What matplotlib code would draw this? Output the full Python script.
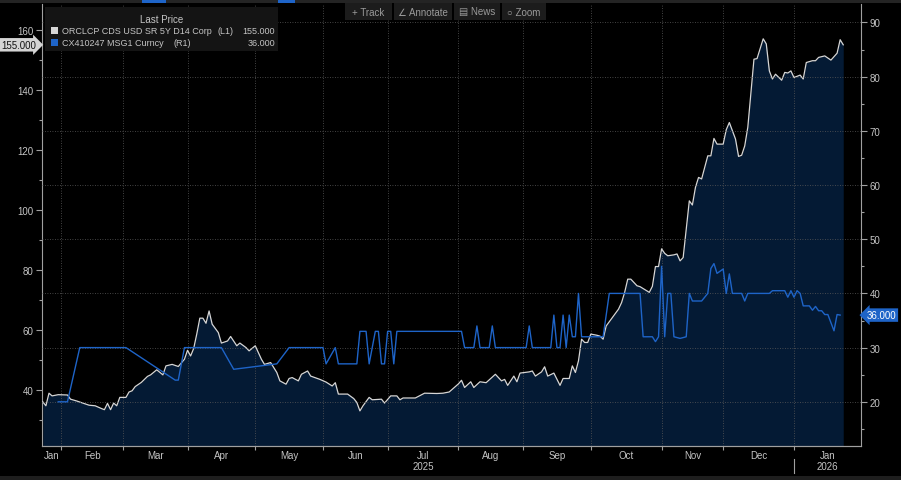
import numpy as np
import matplotlib
matplotlib.use("Agg")
import matplotlib.pyplot as plt
from matplotlib.patches import Rectangle
from matplotlib.lines import Line2D

# ORCLCP CDS USD SR 5Y D14 Corp (left axis)
cds_dates = [
    "2025-01-24", "2025-01-27", "2025-01-28", "2025-01-29", "2025-01-31",
    "2025-02-05", "2025-02-06", "2025-02-10", "2025-02-14", "2025-02-18",
    "2025-02-20", "2025-02-21", "2025-02-24", "2025-02-25", "2025-02-26",
    "2025-02-27", "2025-02-28", "2025-03-04", "2025-03-05", "2025-03-06",
    "2025-03-07", "2025-03-11", "2025-03-13", "2025-03-14", "2025-03-18",
    "2025-03-20", "2025-03-21", "2025-03-25", "2025-03-27", "2025-03-31",
    "2025-04-01", "2025-04-02", "2025-04-03", "2025-04-04", "2025-04-07",
    "2025-04-08", "2025-04-09", "2025-04-10", "2025-04-11", "2025-04-15",
    "2025-04-16", "2025-04-18", "2025-04-21", "2025-04-23", "2025-04-24",
    "2025-04-28", "2025-04-29", "2025-05-01", "2025-05-05", "2025-05-06",
    "2025-05-08", "2025-05-12", "2025-05-13", "2025-05-15", "2025-05-16",
    "2025-05-19", "2025-05-21", "2025-05-22", "2025-05-26", "2025-05-27",
    "2025-05-30", "2025-06-03", "2025-06-05", "2025-06-06", "2025-06-09",
    "2025-06-12", "2025-06-16", "2025-06-17", "2025-06-18", "2025-06-19",
    "2025-06-23", "2025-06-24", "2025-06-27", "2025-06-30", "2025-07-02",
    "2025-07-04", "2025-07-07", "2025-07-08", "2025-07-14", "2025-07-17",
    "2025-07-23", "2025-07-25", "2025-07-29", "2025-08-01", "2025-08-04",
    "2025-08-05", "2025-08-07", "2025-08-08", "2025-08-12", "2025-08-14",
    "2025-08-19", "2025-08-21", "2025-08-22", "2025-08-25", "2025-08-27",
    "2025-08-28", "2025-08-29", "2025-09-03", "2025-09-04", "2025-09-05",
    "2025-09-09", "2025-09-10", "2025-09-11", "2025-09-15", "2025-09-17",
    "2025-09-18", "2025-09-22", "2025-09-23", "2025-09-24", "2025-09-25",
    "2025-09-26", "2025-09-29", "2025-09-30", "2025-10-01", "2025-10-03",
    "2025-10-06", "2025-10-07", "2025-10-08", "2025-10-10", "2025-10-14",
    "2025-10-15", "2025-10-16", "2025-10-17", "2025-10-20", "2025-10-22",
    "2025-10-23", "2025-10-28", "2025-10-29", "2025-10-30", "2025-10-31",
    "2025-11-03", "2025-11-04", "2025-11-05", "2025-11-07", "2025-11-10",
    "2025-11-11", "2025-11-12", "2025-11-14", "2025-11-17", "2025-11-18",
    "2025-11-19", "2025-11-20", "2025-11-24", "2025-11-25", "2025-11-26",
    "2025-11-27", "2025-11-28", "2025-12-01", "2025-12-02", "2025-12-03",
    "2025-12-05", "2025-12-08", "2025-12-09", "2025-12-10", "2025-12-11",
    "2025-12-12", "2025-12-15", "2025-12-16", "2025-12-18", "2025-12-19",
    "2025-12-22", "2025-12-23", "2025-12-24", "2025-12-26", "2025-12-29",
    "2025-12-30", "2025-12-31", "2026-01-01", "2026-01-05", "2026-01-06",
    "2026-01-07", "2026-01-09", "2026-01-12", "2026-01-13", "2026-01-15",
    "2026-01-19", "2026-01-21", "2026-01-22", "2026-01-23",
]
cds_vals = [
    36.0, 34.7, 38.9, 38.0, 38.4,
    38.3, 36.9, 36.3, 34.9, 34.7,
    33.8, 33.4, 35.5, 33.4, 35.6,
    34.7, 37.5, 37.5, 39.3, 39.7,
    41.1, 42.5, 44.5, 45.0, 46.7,
    45.0, 48.0, 48.5, 47.8, 50.2,
    53.2, 51.3, 53.8, 58.6, 63.9,
    63.9, 62.2, 66.3, 61.9, 59.1,
    55.6, 56.3, 57.8, 54.7, 55.6,
    54.1, 53.0, 54.7, 50.2, 48.5,
    49.1, 45.8, 43.0, 41.9, 43.8,
    44.1, 43.0, 45.2, 46.3, 44.6,
    43.5, 42.6, 41.3, 42.4, 38.6,
    38.6, 37.1, 35.8, 33.0, 34.7,
    37.5, 36.7, 36.9, 35.6, 38.0,
    38.0, 36.7, 37.3, 37.3, 38.9,
    38.8, 38.9, 39.3, 42.0, 43.2,
    40.8, 42.7, 40.8, 42.7, 42.4,
    45.2, 43.0, 43.5, 41.5, 44.6,
    42.7, 45.6, 46.0, 46.3, 44.6,
    46.0, 47.7, 44.6, 45.6, 41.5,
    43.8, 43.8, 48.0, 45.8, 49.7,
    56.9, 55.8, 55.8, 58.6, 58.2,
    57.9, 56.9, 61.3, 64.1, 66.9,
    69.1, 72.5, 76.9, 76.9, 74.7,
    74.4, 72.5, 74.5, 81.1, 81.1,
    87.0, 85.5, 84.7, 85.0, 85.3,
    83.0, 84.1, 103.0, 101.6, 107.5,
    110.8, 110.3, 118.0, 118.0, 123.8,
    121.9, 121.9, 121.9, 126.7, 129.1,
    123.6, 117.8, 118.2, 121.3, 127.5,
    139.0, 150.2, 150.4, 157.0, 155.3,
    146.3, 143.6, 145.2, 143.2, 145.8,
    145.6, 146.3, 144.1, 144.9, 143.6,
    149.1, 149.7, 149.7, 150.8, 151.3,
    149.9, 152.2, 156.7, 155.0,
]

# CX410247 MSG1 Curncy (right axis)
cx_dates = [
    "2025-01-31", "2025-02-05", "2025-02-11", "2025-03-04", "2025-03-26",
    "2025-03-27", "2025-03-31", "2025-04-16", "2025-04-22", "2025-05-12",
    "2025-05-16", "2025-06-02", "2025-06-03", "2025-06-06", "2025-06-09",
    "2025-06-17", "2025-06-18", "2025-06-20", "2025-06-23", "2025-06-25",
    "2025-06-26", "2025-06-27", "2025-06-30", "2025-07-01", "2025-07-02",
    "2025-07-03", "2025-07-04", "2025-08-04", "2025-08-05", "2025-08-08",
    "2025-08-11", "2025-08-12", "2025-08-15", "2025-08-18", "2025-08-19",
    "2025-09-02", "2025-09-03", "2025-09-04", "2025-09-12", "2025-09-15",
    "2025-09-16", "2025-09-17", "2025-09-18", "2025-09-19", "2025-09-22",
    "2025-09-23", "2025-09-24", "2025-09-25", "2025-09-26", "2025-10-07",
    "2025-10-09", "2025-10-23", "2025-10-24", "2025-10-29", "2025-10-30",
    "2025-10-31", "2025-11-03", "2025-11-04", "2025-11-05", "2025-11-06",
    "2025-11-07", "2025-11-11", "2025-11-13", "2025-11-14", "2025-11-17",
    "2025-11-20", "2025-11-24", "2025-11-25", "2025-11-26", "2025-11-27",
    "2025-12-01", "2025-12-02", "2025-12-03", "2025-12-04", "2025-12-09",
    "2025-12-10", "2025-12-11", "2025-12-22", "2025-12-23", "2025-12-29",
    "2025-12-30", "2025-12-31", "2026-01-01", "2026-01-02", "2026-01-05",
    "2026-01-06", "2026-01-08", "2026-01-09", "2026-01-12", "2026-01-13",
    "2026-01-14", "2026-01-15", "2026-01-16", "2026-01-20", "2026-01-21",
    "2026-01-22",
]
cx_vals = [
    20.0, 20.0, 30.0, 30.0, 24.0,
    24.0, 30.0, 30.0, 26.0, 27.0,
    30.0, 30.0, 27.0, 30.0, 27.0,
    27.0, 33.0, 33.0, 27.0, 33.0,
    33.0, 27.0, 27.0, 33.0, 33.0,
    27.0, 33.0, 33.0, 30.0, 30.0,
    34.0, 30.0, 30.0, 34.0, 30.0,
    30.0, 34.0, 30.0, 30.0, 36.0,
    30.0, 30.0, 36.0, 30.0, 36.0,
    32.0, 32.0, 40.0, 32.0, 32.0,
    40.0, 40.0, 32.0, 32.0, 31.1,
    32.0, 45.0, 32.0, 40.0, 40.0,
    32.0, 31.7, 32.0, 40.0, 38.6,
    38.6, 40.0, 44.6, 45.5, 43.7,
    44.5, 40.0, 43.6, 40.0, 40.0,
    38.6, 40.0, 40.0, 40.5, 40.5,
    39.3, 40.5, 39.3, 40.5, 40.0,
    37.7, 37.7, 36.9, 37.6, 36.8,
    36.8, 36.1, 36.1, 33.1, 36.1,
    36.0,
]

month_starts = ["2025-02-01", "2025-03-01", "2025-04-01", "2025-05-01", "2025-06-01",
                "2025-07-01", "2025-08-01", "2025-09-01", "2025-10-01", "2025-11-01",
                "2025-12-01", "2026-01-01"]
month_labels = ["Jan", "Feb", "Mar", "Apr", "May", "Jun", "Jul",
                "Aug", "Sep", "Oct", "Nov", "Dec", "Jan"]

BASE = np.datetime64("2025-01-23")


def bday_pos(dates):
    # trading-day axis, weekends removed like the terminal does
    return np.busday_count(BASE, np.array(dates, dtype="datetime64[D]")).astype(float)


W, H = 901, 481
BG = "#000000"
FILL = "#041a34"
GRAY = "#d6d6d6"
BLUE = "#1e64c8"
TXT = "#c4c4c4"
SPINE = "#a0a0a0"
GRID = "#5a5a5a"

plt.rcParams["font.family"] = ["Liberation Sans", "DejaVu Sans"]

fig = plt.figure(figsize=(W / 100, H / 100), dpi=100, facecolor=BG)


def fx(x):
    return x / W


def fy(y):
    return 1 - y / H


ax = fig.add_axes([fx(41.7), fy(446.7), (861 - 41.7) / W, (446.7 - 5) / H])
ax.set_facecolor(BG)
ax2 = ax.twinx()

x_cds = bday_pos(cds_dates)
x_cx = bday_pos(cx_dates)
xmin, xmax = 0.63, 266.77

ax.fill_between(x_cds, cds_vals, 0, color=FILL, lw=0, zorder=1)
ax.plot(x_cds, cds_vals, color=GRAY, lw=0.9, zorder=3)
ax2.plot(x_cx, cx_vals, color=BLUE, lw=1.0, zorder=3)

ax.set_xlim(xmin, xmax)
ax.set_ylim(21.4, 168.6)
ax2.set_ylim(11.9, 93.4)

# month boundaries and centred month labels
bounds = bday_pos(month_starts)
edges = np.concatenate([[xmin], bounds, [xmax]])
mids = (edges[:-1] + edges[1:]) / 2
ax.set_xticks(mids)
ax.set_xticklabels(month_labels)
ax.set_xticks(bounds, minor=True)
ax.tick_params(axis="x", which="major", length=0, pad=3, labelsize=7, labelcolor=TXT)
ax.tick_params(axis="x", which="minor", length=3, color=SPINE, width=0.8)
ax.grid(axis="x", which="minor", color=GRID, lw=0.6, ls=(0, (1, 2)))

ax.set_yticks(np.arange(40, 161, 20))
ax.set_yticks(np.arange(30, 161, 20), minor=True)
ax.tick_params(axis="y", which="major", direction="out", length=4, width=0.8,
               color=SPINE, pad=2, labelsize=7, labelcolor=TXT)
ax.tick_params(axis="y", which="minor", direction="out", length=2.5, width=0.8, color=SPINE)

ax2.set_yticks(np.arange(20, 91, 10))
ax2.set_yticks(np.arange(15, 91, 10), minor=True)
ax2.tick_params(axis="y", which="major", direction="out", length=4, width=0.8,
                color=SPINE, pad=2, labelsize=7, labelcolor=TXT)
ax2.tick_params(axis="y", which="minor", direction="out", length=2.5, width=0.8, color=SPINE)
ax2.grid(axis="y", which="major", color=GRID, lw=0.6, ls=(0, (1, 2)))

for a in (ax, ax2):
    a.spines["top"].set_visible(False)
    for s in ("left", "right", "bottom"):
        a.spines[s].set_color(SPINE)
        a.spines[s].set_linewidth(0.8)
ax.spines["right"].set_visible(False)
ax2.spines["left"].set_visible(False)

# year row
xt = ax.get_xaxis_transform()
ax.text(mids[6], -0.045, "2025", transform=xt, ha="center", va="center",
        fontsize=7, color=TXT)
ax.text(mids[12], -0.045, "2026", transform=xt, ha="center", va="center",
        fontsize=7, color=TXT)
ax.add_line(Line2D([bounds[-1], bounds[-1]], [-0.03, -0.062], transform=xt,
                   color=SPINE, lw=0.8, clip_on=False))

# last value tags on both axes
ax.text(-0.007, cds_vals[-1], f"{cds_vals[-1]:.3f}", transform=ax.get_yaxis_transform(),
        ha="right", va="center", fontsize=7, color="#111111", zorder=10, clip_on=False,
        bbox=dict(boxstyle="rarrow,pad=0.18", fc="#d4d4d4", ec="none"))
ax2.text(1.007, cx_vals[-1], f"{cx_vals[-1]:.3f}", transform=ax2.get_yaxis_transform(),
         ha="left", va="center", fontsize=7, color="white", zorder=10, clip_on=False,
         bbox=dict(boxstyle="larrow,pad=0.18", fc=BLUE, ec="none"))

# legend panel
fig.add_artist(Rectangle((fx(45), fy(52)), fx(278) - fx(45), fy(8) - fy(52),
                         transform=fig.transFigure, fc="#141414", ec="none", zorder=5))
fig.text(fx(162), fy(20), "Last Price", ha="center", va="center", fontsize=7,
         color=TXT, zorder=6)
rows = [("ORCLCP CDS USD SR 5Y D14 Corp", "(L1)", 218, f"{cds_vals[-1]:.3f}", GRAY, 31.5),
        ("CX410247 MSG1 Curncy", "(R1)", 174, f"{cx_vals[-1]:.3f}", BLUE, 43.5)]
for name, tag, tag_x, last, col, yy in rows:
    fig.add_artist(Rectangle((fx(51), fy(yy + 3.5)), 7 / W, 7 / H,
                             transform=fig.transFigure, fc=col, ec="none", zorder=6))
    fig.text(fx(62), fy(yy), name, ha="left", va="center", fontsize=6.5, color=TXT, zorder=6)
    fig.text(fx(tag_x), fy(yy), tag, ha="left", va="center", fontsize=6.5, color=TXT, zorder=6)
    fig.text(fx(275), fy(yy), last, ha="right", va="center", fontsize=6.5, color=TXT, zorder=6)

# toolbar
buttons = [("+ Track", 345, 392), ("\u2220 Annotate", 394, 452),
           ("\u25a4 News", 454, 500), ("\u25cb Zoom", 502, 546)]
for label, x0, x1 in buttons:
    fig.add_artist(Rectangle((fx(x0), fy(21)), (x1 - x0) / W, 17 / H,
                             transform=fig.transFigure, fc="#1c1c1c", ec="none", zorder=5))
    fig.text(fx((x0 + x1) / 2), fy(12.5), label, ha="center", va="center", fontsize=7,
             color="#9a9a9a", zorder=6)

# window chrome strips
fig.add_artist(Rectangle((0, fy(3.5)), 1, 3.5 / H, transform=fig.transFigure,
                         fc="#242424", ec="none", zorder=7))
for x0, x1 in ((142, 166), (278, 295)):
    fig.add_artist(Rectangle((fx(x0), fy(3.5)), (x1 - x0) / W, 3.5 / H,
                             transform=fig.transFigure, fc=BLUE, ec="none", zorder=8))
fig.add_artist(Rectangle((0, 0), 1, 4.5 / H, transform=fig.transFigure,
                         fc="#1e1e1e", ec="none", zorder=7))

fig.savefig("out.png", dpi=100, facecolor=BG)
